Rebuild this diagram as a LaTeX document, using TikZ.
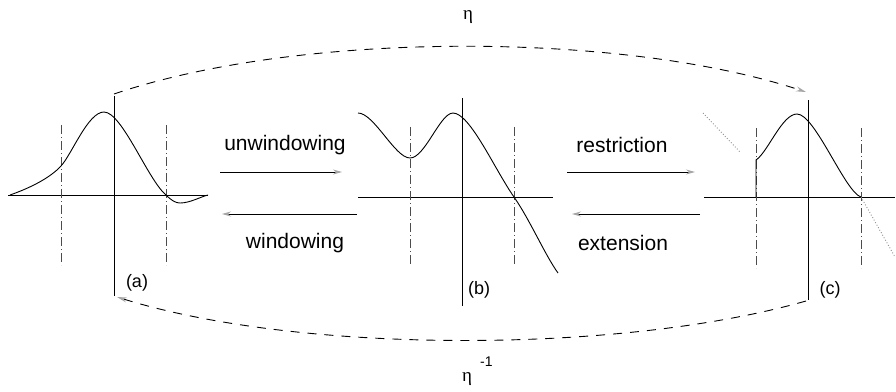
\documentclass[tikz,border=0pt]{standalone}
\usepackage{fontspec}
\newfontfamily\hv{Liberation Sans}
\newfontfamily\gk{Liberation Serif}
\usetikzlibrary{arrows.meta}
\tikzset{
  axis/.style={line width=0.9pt, black},
  win/.style={line width=0.7pt, black!70, dash pattern=on 9pt off 3pt on 1pt off 3pt},
  fn/.style={line width=0.9pt, black},
  ext/.style={line width=0.9pt, black!45, dotted},
  op/.style={line width=0.9pt, black, -{Stealth[length=9pt,width=5pt,color=black!35]}},
  eta/.style={line width=0.9pt, black, dash pattern=on 9pt off 8pt, -{Stealth[length=10pt,width=5pt,color=black!35]}},
  lbl/.style={font=\hv\fontsize{21}{24}\selectfont, inner sep=0pt},
  plbl/.style={font=\hv\fontsize{18}{21}\selectfont, inner sep=0pt},
  gsym/.style={font=\gk\fontsize{19}{21}\selectfont, inner sep=0pt},
}
\begin{document}
\begin{tikzpicture}[x=1pt,y=-1pt]
\useasboundingbox (0,0) rectangle (896,391);
% ---------- panel (a)
\coordinate (aT) at (114,96);
\coordinate (aB) at (114,296);
\draw[axis] (aT) -- (aB);
\draw[axis] (8,195) -- (208,195);
\draw[win] (61,125) -- (61,265);
\draw[win] (166,125) -- (166,265);
\draw[fn] (10,195) .. controls (30,188) and (50,178) .. (61,166)
  .. controls (72,154) and (88,112) .. (104,112)
  .. controls (122,112) and (148,180) .. (166,195)
  .. controls (172,201) and (176,203) .. (180,203)
  .. controls (190,203) and (200,197) .. (208,195);
\node[plbl] (la) at (137,283) {(a)};
% ---------- panel (b)
\coordinate (bT) at (462,98);
\coordinate (bB) at (462,306);
\draw[axis] (bT) -- (bB);
\draw[axis] (358,197) -- (553,197);
\draw[win] (410,127) -- (410,267);
\draw[win] (514,127) -- (514,267);
\draw[fn] (358,113) .. controls (374,113) and (395,158) .. (410,158)
  .. controls (425,158) and (440,113) .. (453,113)
  .. controls (470,113) and (495,170) .. (514,197)
  .. controls (530,220) and (545,255) .. (558,273);
\node[plbl] (lb) at (479,290) {(b)};
% ---------- panel (c)
\coordinate (cT) at (808,100);
\coordinate (cB) at (808,300);
\draw[axis] (cT) -- (cB);
\draw[axis] (704,197) -- (895,197);
\draw[win] (756,128) -- (756,268);
\draw[win] (861,128) -- (861,268);
\draw[ext] (703,113) -- (740,152);
\draw[ext] (861,197) -- (895,257);
\draw[fn] (756,197) -- (756,160) .. controls (768,152) and (782,114) .. (797,114)
  .. controls (815,114) and (845,192) .. (861,197);
\node[plbl] (lc) at (830,290) {(c)};
% ---------- operator arrows
\coordinate (u1) at (220,172); \coordinate (u2) at (342,172);
\coordinate (w1) at (357,214); \coordinate (w2) at (222,214);
\coordinate (r1) at (567,172); \coordinate (r2) at (695,172);
\coordinate (e1) at (700,214); \coordinate (e2) at (572,214);
\draw[op] (u1) -- (u2);
\draw[op] (w1) -- (w2);
\draw[op] (r1) -- (r2);
\draw[op] (e1) -- (e2);
\node[lbl] (tu) at (285,145) {unwindowing};
\node[lbl] (tw) at (295,243) {windowing};
\node[lbl] (tr) at (622,145) {restriction};
\node[lbl] (te) at (623,243) {extension};
% ---------- eta curves
\coordinate (etaS) at (114,94);
\coordinate (etaE) at (806,92);
\draw[eta] (etaS) .. controls (300,31) and (620,31) .. (etaE);
\coordinate (einvS) at (806,301);
\coordinate (einvE) at (117,297);
\draw[eta] (einvS) .. controls (620,354) and (300,354) .. (einvE);
\node[gsym] (eta) at (468,17) {η};
\node[gsym] (etainv) at (467,379) {η};
\node[font=\hv\fontsize{14}{16}\selectfont, inner sep=0pt, anchor=west] (minus1) at (480,362) {-1};
\end{tikzpicture}
\end{document}
